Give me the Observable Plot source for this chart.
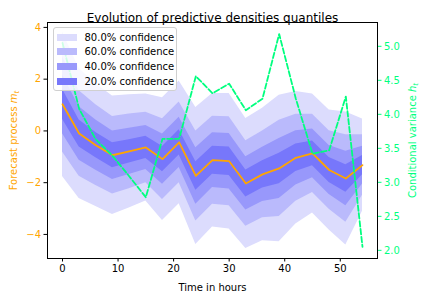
<!DOCTYPE html>
<html><head><meta charset="utf-8">
<script src="https://cdn.jsdelivr.net/npm/d3@7"></script>
<script src="https://cdn.jsdelivr.net/npm/@observablehq/plot@0.6"></script>
<style>
body{margin:0;background:#fff;font-family:"DejaVu Sans",sans-serif;}
#wrap{position:relative;width:424px;height:296px;}
.legend{position:absolute;left:52.5px;top:26.5px;width:124px;height:64px;background:rgba(255,255,255,0.8);border:1px solid #d0d0d0;border-radius:3px;box-sizing:border-box;font-size:10px;color:#000;}
.row{position:absolute;left:3px;height:14px;display:flex;align-items:center;white-space:nowrap;}
.sw{width:20px;height:7px;margin-right:8px;}
</style></head><body><div id="wrap"></div>
<script>
const title = "Evolution of predictive densities quantiles";
const hours = [0,3,6,9,12,15,18,21,24,27,30,33,36,39,42,45,48,51,54];
const median = [1.03,-0.10,-0.55,-0.94,-0.79,-0.64,-1.09,-0.44,-1.74,-1.13,-1.17,-2.03,-1.68,-1.45,-1.04,-0.87,-1.51,-1.84,-1.32];
const variance = [5.05,4.08,3.63,3.39,3.09,2.78,3.64,3.64,4.56,4.31,4.45,4.06,4.23,5.18,4.23,3.42,3.47,4.26,2.05];
// half-widths of each confidence band around the median
const hw80 = [2.79,2.51,2.37,2.29,2.19,2.07,2.37,2.37,2.65,2.58,2.62,2.51,2.56,2.83,2.56,2.30,2.32,2.57,1.78];
const hw60 = [1.84,1.65,1.56,1.50,1.44,1.36,1.56,1.56,1.74,1.70,1.72,1.65,1.68,1.86,1.68,1.51,1.52,1.69,1.17];
const hw40 = [1.14,1.03,0.97,0.94,0.89,0.85,0.97,0.97,1.09,1.06,1.07,1.03,1.05,1.16,1.05,0.94,0.95,1.05,0.73];
const hw20 = [0.58,0.52,0.49,0.48,0.45,0.43,0.49,0.49,0.55,0.54,0.55,0.52,0.53,0.59,0.53,0.48,0.48,0.53,0.37];
const bandLabels = ["80.0% confidence","60.0% confidence","40.0% confidence","20.0% confidence"];
const bandColors = ["#dcdcfd","#babafc","#9898fb","#7777fb"];
const xTicks = [0,10,20,30,40,50];
const yTicks = [-4,-2,0,2,4];
const vTicks = [2.0,2.5,3.0,3.5,4.0,4.5,5.0];

const yDom = [-4.93, 4.19];
const vDom = [1.88, 5.35];
const toY = h => yDom[0] + (h - vDom[0]) / (vDom[1] - vDom[0]) * (yDom[1] - yDom[0]);
const fromY = y => vDom[0] + (y - yDom[0]) / (yDom[1] - yDom[0]) * (vDom[1] - vDom[0]);

const hws = [hw80, hw60, hw40, hw20];
const bands = hws.map((hw, b) => hours.map((t, i) => ({t, lo: median[i] - hw[i], hi: median[i] + hw[i], band: bandLabels[b]})));
const med = hours.map((t, i) => ({t, v: median[i]}));
const vari = hours.map((t, i) => ({t, v: toY(variance[i])}));

const chart = Plot.plot({
  width: 424, height: 296,
  marginLeft: 47, marginRight: 47, marginTop: 22, marginBottom: 38,
  style: {fontFamily: "DejaVu Sans, sans-serif", fontSize: "10px", background: "white", color: "black"},
  x: {domain: [-2.7, 56.7]},
  y: {domain: yDom},
  marks: [
    ...bands.map((d, b) => Plot.areaY(d, {x: "t", y1: "lo", y2: "hi", fill: bandColors[b]})),
    Plot.lineY(med, {x: "t", y: "v", stroke: "orange", strokeWidth: 1.8}),
    Plot.lineY(vari, {x: "t", y: "v", stroke: "#00ff7f", strokeWidth: 1.8, strokeDasharray: "5.5,2.4"}),
    Plot.frame({stroke: "black", strokeWidth: 1}),
    Plot.axisX({ticks: xTicks, tickSize: 3.5, tickPadding: 3, tickFormat: d3.format("d"), label: "Time in hours", labelAnchor: "center", labelArrow: "none", labelOffset: 32}),
    Plot.axisY({anchor: "left", ticks: yTicks, tickSize: 3.5, tickPadding: 3, stroke: "black", fill: "orange", tickFormat: d3.format("d"), label: "Forecast process m_t", labelAnchor: "center", labelArrow: "none", labelOffset: 38}),
    Plot.axisY(vTicks.map(toY), {anchor: "right", tickSize: 3.5, tickPadding: 3, color: "#00ff7f", tickFormat: d => fromY(d).toFixed(1), label: "Conditional variance h_t", labelAnchor: "center", labelArrow: "none", labelOffset: 38}),
    Plot.text([title], {frameAnchor: "top", dy: -9, fontSize: 12, fill: "black"})
  ]
});

const wrap = document.getElementById("wrap");
wrap.appendChild(chart);

d3.select(chart).selectAll("text").each(function() {
  const s = this.textContent;
  const m = s.match(/^(.*) ([mh])_t$/);
  if (m && this.children.length === 0) {
    const el = d3.select(this);
    el.text(null);
    el.append("tspan").text(m[1] + " ");
    el.append("tspan").attr("font-style", "italic").text(m[2]);
    el.append("tspan").attr("font-style", "italic").attr("font-size", "7px").attr("dy", "2").text("t");
  }
});

const legend = document.createElement("div");
legend.className = "legend";
bandLabels.forEach((lab, i) => {
  const row = document.createElement("div");
  row.className = "row";
  row.style.top = (2.5 + i * 14.9) + "px";
  const sw = document.createElement("div");
  sw.className = "sw";
  sw.style.background = bandColors[i];
  row.appendChild(sw);
  const tx = document.createElement("span");
  tx.textContent = lab;
  row.appendChild(tx);
  legend.appendChild(row);
});
wrap.appendChild(legend);
</script></body></html>
